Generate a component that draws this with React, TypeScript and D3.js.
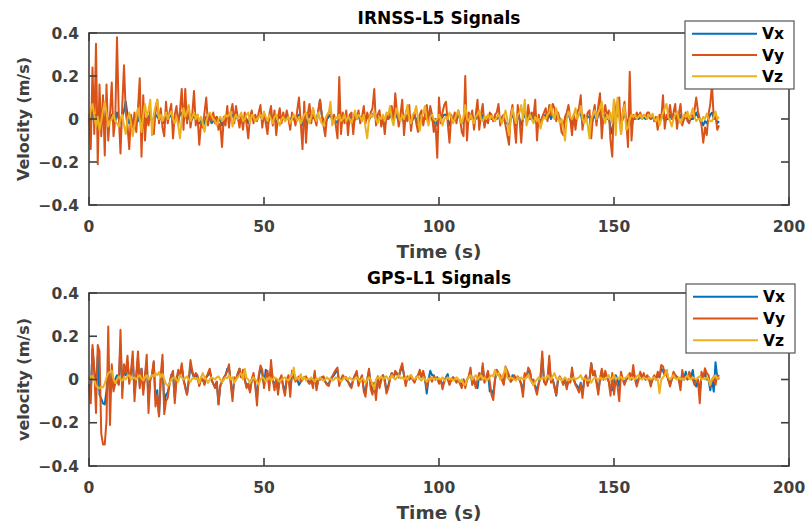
import React from 'react';
import * as d3 from 'd3';

// Sampling interval of the recorded velocity series (seconds)
const SAMPLE_DT = 0.5;

const seriesNames = ['Vx', 'Vy', 'Vz'];
const xTicks = [0, 50, 100, 150, 200];
const yTicks = [-0.4, -0.2, 0, 0.2, 0.4];
const xDomain = [0, 200];
const yDomain = [-0.4, 0.4];

// ---------- IRNSS-L5 ----------
const irnssVx = [
  0.0,-0.02,0.03,0.0,0.02,-0.03,0.01,0.0,0.02,-0.02,0.01,0.0,-0.01,0.02,0.0,-0.01,0.03,0.0,-0.02,0.01,
  0.04,0.08,0.02,-0.02,0.0,-0.03,0.01,0.0,-0.01,0.02,-0.02,0.01,0.0,-0.01,0.01,0.02,-0.01,0.0,0.02,0.01,
  0.0,0.01,-0.01,-0.02,0.02,0.0,0.01,0.02,-0.02,0.0,0.01,0.0,0.02,0.03,-0.01,0.02,0.0,0.01,-0.01,0.0,
  0.02,0.0,0.01,-0.02,0.0,-0.03,-0.02,0.01,0.0,0.01,-0.02,-0.01,0.0,0.01,-0.01,0.0,-0.03,0.0,0.01,0.02,
  0.0,0.01,0.02,0.0,0.01,0.0,-0.01,0.0,-0.02,0.01,0.0,-0.02,0.0,0.01,0.0,0.01,0.0,0.01,0.02,0.0,
  0.01,0.0,-0.02,0.0,0.02,0.0,0.01,-0.02,0.0,0.01,0.0,0.01,0.0,0.01,0.0,-0.01,0.01,0.0,-0.01,0.01,
  0.02,0.0,-0.03,0.02,-0.02,0.0,0.02,0.0,0.01,0.0,0.0,0.03,0.09,0.02,-0.01,-0.02,0.0,0.01,0.02,0.0,
  0.0,-0.01,-0.02,0.03,-0.02,0.0,0.0,0.01,-0.02,0.0,0.01,-0.02,0.0,0.0,0.01,0.0,0.0,0.02,0.0,0.01,
  0.0,0.01,0.02,0.03,0.0,0.0,0.01,-0.01,0.0,-0.02,0.0,0.0,0.01,0.02,0.0,0.03,0.01,-0.01,0.0,0.02,
  -0.02,0.0,0.0,0.02,-0.02,0.0,0.01,0.0,-0.02,0.0,0.01,0.0,0.0,0.02,0.0,0.02,0.0,-0.02,0.0,-0.03,
  0.02,0.0,0.01,0.02,0.02,0.0,-0.03,0.0,0.0,0.01,0.0,0.02,0.0,-0.02,-0.02,0.03,-0.02,0.0,0.0,0.01,
  -0.01,0.0,0.02,-0.01,0.0,0.02,-0.03,0.0,0.0,0.01,0.0,0.0,0.01,0.0,0.02,-0.01,0.0,0.0,-0.02,-0.02,
  -0.03,0.0,0.02,0.0,-0.03,0.02,0.0,-0.03,0.0,0.02,0.0,0.02,0.0,0.01,0.0,0.02,-0.03,0.0,-0.01,0.0,
  0.01,0.02,0.0,0.02,0.0,0.02,0.01,0.0,0.01,0.0,-0.02,-0.03,0.0,0.01,0.02,0.0,-0.03,0.0,-0.02,0.01,
  0.02,0.03,-0.02,0.0,0.0,0.01,0.01,-0.03,0.0,0.02,-0.01,0.02,0.03,-0.03,0.0,0.02,0.0,0.01,-0.04,-0.07,
  0.02,0.0,0.02,0.03,-0.02,0.0,0.02,0.0,-0.03,0.04,-0.03,0.0,0.0,0.01,0.0,0.01,0.0,0.01,0.0,0.01,
  0.01,0.0,0.01,0.0,0.0,-0.02,0.0,0.0,0.03,-0.01,0.0,0.0,0.02,0.0,0.01,0.02,-0.01,0.0,0.02,-0.01,
  0.0,0.01,0.0,-0.01,0.0,0.0,0.01,0.03,0.01,0.0,-0.01,-0.03,-0.01,-0.02,0.0,0.02,0.03,0.0,0.01,-0.02,
  -0.01,
];
const irnssVy = [
  0.02,-0.14,0.24,-0.07,0.35,-0.21,0.16,-0.08,0.11,-0.17,0.16,-0.10,0.02,0.17,-0.08,0.00,0.38,0.02,-0.16,0.06,
  0.25,0.03,-0.03,-0.14,0.02,-0.04,0.03,-0.06,0.05,0.19,-0.175,0.11,-0.10,0.02,-0.03,0.04,-0.02,-0.07,0.03,0.09,
  -0.02,0.05,-0.04,-0.08,0.08,-0.02,0.03,0.07,-0.09,0.02,0.06,-0.03,0.04,0.14,-0.05,0.14,-0.02,0.06,-0.04,0.02,
  0.13,-0.03,0.02,-0.12,-0.02,-0.04,0.03,0.10,-0.03,0.02,-0.01,0.03,-0.02,0.01,-0.05,-0.02,-0.13,0.01,-0.03,0.06,
  -0.04,0.03,0.07,-0.02,0.06,0.01,-0.04,0.02,-0.05,0.03,-0.02,-0.09,0.01,0.04,-0.02,0.02,-0.01,0.03,0.065,-0.04,
  0.03,-0.02,-0.07,0.02,0.06,-0.03,0.04,-0.075,0.01,0.05,-0.02,0.03,-0.01,0.04,0.00,-0.05,0.03,0.01,-0.03,0.04,
  0.10,-0.02,-0.14,0.08,-0.11,0.02,0.07,-0.02,0.05,0.00,-0.03,0.04,0.09,0.02,-0.03,-0.08,0.01,0.03,0.05,-0.02,
  0.02,-0.03,-0.09,0.195,-0.07,0.03,-0.02,0.04,-0.075,0.02,0.03,-0.07,0.02,0.00,0.04,-0.02,0.01,0.06,-0.02,0.03,
  -0.01,0.03,0.05,0.14,-0.03,0.02,0.04,-0.035,0.01,-0.07,0.02,0.00,0.03,0.06,-0.02,0.12,0.03,-0.035,0.02,0.09,
  -0.075,0.02,-0.01,0.065,-0.055,0.01,0.03,-0.02,-0.06,0.02,0.04,-0.03,0.02,0.065,-0.01,0.06,0.02,-0.06,-0.02,-0.18,
  0.10,-0.02,0.03,0.065,0.08,-0.02,-0.11,0.02,-0.01,0.03,-0.02,0.04,0.01,-0.06,-0.08,0.20,-0.10,0.03,0.00,0.04,
  -0.05,0.02,0.09,-0.05,0.02,0.07,-0.04,0.01,-0.02,0.03,0.02,-0.01,0.02,0.03,0.07,-0.03,0.01,0.02,-0.03,-0.075,
  -0.12,0.02,0.065,-0.02,-0.11,0.065,0.00,-0.11,0.02,0.05,-0.01,0.065,0.00,0.03,0.01,0.09,-0.10,0.02,-0.035,0.01,
  0.03,0.05,-0.01,0.065,0.02,0.07,0.05,-0.01,0.03,0.00,-0.06,-0.075,0.01,0.03,0.065,0.00,-0.075,0.02,-0.05,0.03,
  0.05,0.11,-0.05,0.02,-0.01,0.03,0.04,-0.09,0.02,0.065,-0.03,0.06,0.12,-0.09,0.02,0.065,0.01,0.04,-0.10,-0.175,
  0.09,0.02,0.08,0.10,-0.07,0.03,0.08,-0.01,-0.13,0.22,-0.10,0.02,0.00,0.03,0.01,0.03,0.00,0.02,0.01,0.03,
  0.03,0.00,0.02,-0.01,0.01,-0.05,0.02,0.00,0.11,-0.045,0.02,0.01,0.065,0.00,0.03,0.07,-0.045,0.02,0.07,-0.03,
  0.00,0.03,-0.01,-0.02,0.02,0.01,0.04,0.10,0.035,0.00,-0.03,-0.11,-0.04,-0.075,0.02,0.07,0.16,0.00,0.02,-0.05,
  -0.03,
];
const irnssVz = [
  0.00,0.04,0.07,0.02,-0.035,0.01,-0.05,-0.01,0.04,0.08,0.03,-0.035,-0.01,0.00,0.02,-0.01,-0.02,-0.035,0.00,0.02,
  -0.03,-0.07,0.00,0.03,-0.02,-0.08,-0.03,0.01,0.05,0.00,-0.06,0.02,0.07,0.01,0.04,0.09,-0.075,0.02,0.06,0.09,
  0.00,0.02,-0.01,0.01,0.03,0.00,0.02,0.035,0.00,-0.02,0.01,-0.03,-0.09,0.00,0.05,0.01,0.03,0.065,-0.01,0.01,
  0.03,0.00,0.02,-0.01,0.01,-0.02,-0.06,-0.01,0.02,0.03,0.015,0.00,-0.01,-0.03,0.00,0.01,-0.01,0.00,0.02,0.01,
  0.02,0.035,-0.035,0.00,0.02,0.00,0.01,0.03,-0.01,0.00,0.02,0.03,-0.02,0.02,0.01,-0.01,0.00,0.01,0.02,0.00,
  0.035,0.01,-0.01,0.02,0.00,-0.02,0.01,0.02,-0.01,-0.03,0.00,0.01,-0.01,0.00,0.01,-0.02,0.00,0.02,0.01,-0.01,
  0.01,-0.02,0.00,0.02,0.03,0.00,-0.02,0.01,0.05,0.01,-0.01,0.03,0.00,-0.02,-0.03,0.00,0.02,0.03,0.08,-0.03,
  -0.01,0.01,0.00,0.02,-0.01,0.00,0.02,-0.01,0.01,0.00,-0.02,0.01,0.04,0.00,0.02,0.01,-0.01,0.02,-0.04,-0.09,
  0.00,0.02,0.01,0.035,0.00,-0.02,0.01,0.00,0.02,-0.01,0.03,0.02,0.06,0.00,-0.03,0.02,0.05,0.01,-0.01,0.02,
  0.00,0.03,0.065,0.00,-0.02,0.02,0.03,0.06,0.00,-0.055,0.01,0.03,0.06,0.00,-0.03,0.01,0.02,0.00,-0.01,0.00,
  0.02,0.00,-0.03,0.00,0.01,0.00,0.03,0.01,-0.02,0.00,0.02,0.04,0.00,-0.02,0.01,0.065,0.00,-0.01,0.02,0.00,
  -0.02,0.01,0.02,0.04,0.00,-0.01,0.01,0.00,0.02,0.00,0.015,0.00,-0.01,0.01,0.02,0.00,-0.02,0.01,0.04,0.00,
  -0.075,0.00,0.05,0.01,-0.02,0.02,0.03,0.065,0.00,0.09,-0.03,0.00,0.02,0.00,-0.02,0.01,-0.01,0.00,-0.045,-0.01,
  0.01,0.00,0.02,0.03,0.065,0.02,0.00,0.05,0.01,-0.02,0.00,-0.04,-0.10,0.00,0.035,0.01,0.00,0.02,0.05,0.00,
  0.02,0.06,0.00,-0.02,0.01,-0.03,-0.09,0.00,0.02,0.04,0.00,0.03,0.05,0.08,0.01,-0.02,0.02,0.00,0.03,-0.02,
  0.09,-0.075,0.10,0.00,-0.07,0.02,0.065,-0.05,-0.04,0.00,0.02,0.01,0.02,0.00,0.01,0.02,0.00,0.02,0.01,0.00,
  0.02,0.01,0.025,0.00,-0.01,0.01,-0.03,0.00,0.03,0.05,0.07,0.01,-0.01,-0.035,0.00,0.02,0.035,0.00,-0.02,0.00,
  0.02,0.01,0.035,0.00,0.02,0.05,0.01,-0.01,0.00,0.00,-0.01,0.01,0.00,0.025,0.00,-0.01,-0.01,0.01,0.035,0.00,
  0.01,
];

// ---------- GPS-L1 ----------
const gpsVx = [
  -0.02,-0.06,0.14,0.04,-0.04,0.11,-0.07,-0.09,-0.11,-0.115,-0.05,0.05,-0.06,0.03,-0.04,0.0,0.02,-0.02,0.16,-0.04,
  0.05,0.02,0.08,-0.01,0.03,0.09,-0.06,0.01,0.1,-0.03,0.05,-0.05,0.01,0.08,-0.1,0.0,0.02,0.08,-0.09,-0.05,
  -0.17,0.0,0.08,-0.12,-0.07,-0.06,-0.02,0.02,0.03,-0.08,0.0,0.03,0.02,0.06,0.0,-0.03,-0.07,-0.01,0.07,0.03,
  0.01,0.02,0.01,-0.025,0.0,0.0,-0.02,0.01,0.02,0.04,0.0,-0.02,-0.03,-0.01,-0.115,-0.03,-0.01,0.0,0.02,0.05,
  0.05,-0.01,-0.08,0.0,0.0,0.02,0.05,0.01,0.03,0.0,-0.03,-0.02,-0.055,0.0,0.02,-0.02,-0.09,0.01,0.05,0.03,
  -0.025,0.045,0.03,-0.03,0.06,0.0,-0.03,0.0,-0.05,0.0,0.01,-0.03,-0.05,0.0,0.01,-0.05,0.03,0.01,0.0,0.0,
  -0.025,-0.01,0.0,0.01,0.01,0.0,-0.015,0.0,-0.03,0.03,-0.04,0.0,0.0,0.01,0.01,-0.01,-0.02,-0.02,0.0,0.01,
  0.02,0.035,0.04,-0.02,0.0,0.01,0.01,0.0,-0.01,-0.02,-0.03,0.0,0.02,0.03,-0.02,0.0,0.01,-0.04,-0.06,0.0,
  0.04,-0.03,-0.05,-0.015,-0.07,0.01,-0.03,0.0,0.02,0.0,-0.05,-0.03,0.01,0.03,0.01,0.03,0.025,0.01,0.04,0.06,
  0.02,-0.02,0.01,0.0,0.015,0.0,-0.01,0.01,0.015,0.035,0.01,0.03,0.0,-0.065,0.0,0.04,0.02,0.02,0.0,0.01,
  -0.015,0.0,-0.03,-0.01,0.01,0.025,-0.02,0.0,0.01,0.0,-0.01,0.0,-0.015,-0.03,0.0,-0.03,0.0,0.01,0.04,-0.02,
  0.0,-0.03,-0.04,0.02,0.0,0.06,-0.01,0.01,0.03,-0.055,-0.05,-0.07,0.0,0.035,0.02,0.015,0.0,-0.02,0.045,0.03,
  0.015,-0.01,0.02,0.015,0.0,0.01,0.0,-0.02,-0.06,0.025,0.01,0.045,0.03,-0.01,-0.025,-0.03,-0.05,-0.015,0.01,0.1,
  -0.01,-0.02,0.0,0.08,-0.01,0.0,-0.03,-0.075,0.0,0.01,0.0,-0.02,0.0,-0.035,0.0,-0.01,0.03,0.0,-0.02,-0.03,
  -0.045,-0.015,-0.065,0.0,0.015,-0.02,0.0,0.075,0.02,0.03,-0.01,-0.05,0.0,0.04,0.0,0.03,0.01,-0.01,-0.05,-0.05,
  -0.02,0.02,0.0,-0.033,0.02,0.0,-0.015,0.0,0.01,0.02,0.0,0.036,0.01,-0.015,0.0,0.028,0.01,0.02,0.0,0.015,
  0.01,-0.02,0.0,0.015,0.0,0.025,0.01,0.05,0.04,0.02,0.044,0.0,-0.02,0.0,0.015,0.02,0.01,0.0,-0.03,0.03,
  0.0,0.036,0.0,0.03,0.01,0.044,-0.015,-0.033,0.0,-0.07,0.02,0.01,0.03,0.0,0.0,-0.05,0.0,-0.056,0.08,0.01,
  0.02,
];
const gpsVy = [
  -0.03,-0.11,0.16,0.05,-0.155,0.16,0.13,-0.25,-0.3,-0.3,-0.19,0.245,-0.21,0.07,-0.055,-0.02,0.0,-0.025,0.23,-0.085,
  0.07,0.03,0.11,-0.02,0.04,0.13,-0.1,0.02,0.13,-0.04,0.05,-0.07,0.02,0.115,-0.155,0.0,0.02,0.085,-0.125,-0.07,
  -0.17,0.02,0.115,-0.16,-0.1,-0.085,-0.02,0.02,0.04,-0.11,0.0,0.045,0.02,0.075,0.0,-0.04,-0.07,0.0,0.09,0.04,
  0.01,0.03,0.02,-0.03,0.01,0.0,-0.025,0.01,0.03,0.05,0.0,-0.02,-0.04,-0.01,-0.115,-0.03,-0.01,0.01,0.02,0.04,
  0.07,-0.02,-0.1,0.01,0.0,0.03,0.05,0.01,0.045,0.0,-0.04,-0.02,-0.06,0.0,0.03,-0.03,-0.12,0.02,0.065,0.045,
  -0.04,0.01,0.04,-0.05,0.09,0.0,-0.05,0.0,-0.07,0.0,0.02,-0.04,-0.075,0.0,0.02,-0.08,0.04,0.01,-0.01,0.0,
  0.015,-0.01,0.0,0.01,0.015,-0.01,-0.02,0.0,-0.04,0.04,-0.05,0.0,0.0,0.01,0.015,-0.01,-0.025,-0.03,0.0,0.015,
  0.03,0.045,0.055,-0.03,0.0,0.02,0.01,0.01,-0.01,-0.03,-0.04,0.0,0.02,0.04,-0.03,0.0,0.02,-0.055,-0.08,0.0,
  0.05,-0.045,-0.07,-0.02,-0.095,0.015,-0.04,0.0,0.02,-0.01,-0.065,-0.04,0.0,0.03,0.01,0.04,0.03,0.01,0.05,0.075,
  0.02,-0.03,0.015,0.0,0.02,0.0,-0.015,0.01,0.02,0.045,0.01,0.04,0.0,-0.04,0.0,0.01,-0.01,0.015,0.0,0.01,
  -0.02,0.0,-0.045,-0.01,0.01,0.0,-0.025,0.0,0.01,0.0,-0.015,0.0,-0.02,-0.04,0.0,-0.04,0.0,0.015,0.055,-0.025,
  0.0,-0.04,0.0,0.03,0.0,0.075,-0.015,0.01,0.04,-0.01,-0.07,-0.095,0.0,0.045,0.03,0.02,0.0,-0.025,0.06,0.04,
  0.02,-0.01,0.0,0.02,0.0,0.015,0.0,-0.025,-0.08,0.03,0.01,0.055,0.04,-0.01,0.0,-0.04,-0.07,-0.02,0.01,0.13,
  -0.01,-0.025,0.0,0.11,-0.015,0.0,-0.04,-0.07,0.0,0.015,0.0,-0.025,0.0,-0.045,0.0,-0.015,0.055,0.0,-0.025,-0.04,
  -0.06,-0.02,-0.085,0.0,0.02,-0.03,0.0,0.075,0.02,0.04,-0.015,-0.07,0.0,0.05,0.0,0.04,0.01,-0.01,-0.075,0.03,
  -0.07,0.0,-0.03,-0.1,0.036,0.0,-0.025,0.0,0.013,0.03,0.0,0.067,0.0,-0.033,0.0,0.036,0.01,0.03,0.0,0.02,
  0.0,-0.033,0.0,0.02,0.0,0.036,0.01,0.067,0.06,0.03,0.02,0.0,-0.033,0.0,0.036,0.02,0.013,0.0,-0.05,0.044,
  0.0,0.013,0.0,0.036,0.01,0.0,-0.025,0.0,-0.002,-0.11,0.036,0.01,0.052,0.03,0.02,-0.033,0.0,0.013,-0.025,0.02,
  0.0,
];
const gpsVz = [
  0.0,0.015,0.015,0.0,-0.03,-0.035,-0.04,-0.035,-0.036,-0.02,0.01,0.03,0.035,0.04,0.0,-0.016,0.0,0.015,0.0,-0.005,
  0.01,0.0,0.015,0.02,0.0,0.005,0.01,0.0,0.012,0.02,0.005,-0.005,0.01,0.02,0.0,0.01,0.02,0.015,0.03,0.02,
  0.035,0.01,0.025,0.0,-0.02,-0.03,-0.02,0.0,0.007,0.01,0.0,-0.01,0.02,0.01,0.0,0.005,0.015,0.0,-0.01,0.005,
  0.007,0.0,0.005,-0.016,0.01,0.03,0.01,0.0,-0.016,0.0,0.01,0.005,0.0,0.01,0.015,0.0,-0.012,0.0,0.01,0.005,
  0.02,0.0,0.01,-0.016,0.0,0.01,0.02,0.03,0.0,0.05,0.007,0.0,-0.016,0.0,0.01,0.0,-0.01,-0.024,0.0,0.01,
  0.005,-0.01,0.0,0.01,-0.005,0.0,0.01,0.005,0.0,-0.01,0.0,0.005,0.01,0.0,-0.005,0.01,0.02,0.055,0.0,0.01,
  0.0,0.025,0.0,0.01,-0.005,0.005,0.0,0.01,0.0,-0.01,0.005,0.0,0.01,0.0,-0.005,0.0,0.01,0.0,0.005,-0.005,
  0.0,0.01,0.005,0.0,-0.01,0.0,0.01,0.005,0.0,0.01,0.0,-0.005,0.005,0.01,0.0,-0.01,0.005,0.0,-0.015,0.0,
  0.01,0.0,-0.02,-0.045,0.0,0.01,0.005,0.015,0.0,0.01,0.015,0.0,0.005,0.02,0.01,0.0,0.01,0.02,0.005,0.01,
  0.0,0.01,0.0,0.015,0.02,0.005,0.0,0.01,0.015,0.0,-0.005,0.01,0.0,-0.01,0.005,0.0,0.01,0.0,0.005,0.0,
  0.005,0.0,0.01,-0.005,0.0,0.01,0.0,0.005,-0.005,0.0,0.01,0.0,-0.01,0.0,-0.02,-0.025,0.0,0.01,0.02,0.0,
  0.01,0.02,0.0,0.01,0.02,0.0,0.01,-0.005,0.0,0.01,0.02,0.015,0.045,0.02,0.03,0.0,0.01,0.03,0.055,0.01,
  0.0,0.01,0.005,0.0,-0.005,0.01,0.0,0.01,0.0,0.005,0.01,0.02,0.0,-0.01,-0.025,-0.01,0.0,0.01,0.0,0.005,
  0.01,0.0,0.02,0.01,0.0,0.015,0.03,0.005,0.0,0.01,-0.005,0.0,0.01,0.0,-0.005,0.005,0.0,0.01,0.0,0.005,
  0.01,0.02,0.0,0.005,0.0,-0.005,0.0,-0.015,0.0,0.01,0.005,0.0,0.01,0.0,0.005,0.0,0.01,0.02,0.0,0.005,
  0.02,0.0,0.01,0.005,0.013,0.0,0.005,0.01,0.02,0.0,0.01,0.005,0.0,0.015,0.02,0.005,0.0,0.01,0.005,0.0,
  0.01,0.0,0.005,0.01,0.0,0.0,-0.064,0.0,0.01,0.02,0.044,0.01,0.0,0.01,0.02,0.005,0.0,0.01,0.0,0.005,
  0.0,0.01,0.02,0.005,0.0,0.01,0.005,0.0,0.01,0.015,0.0,0.005,0.0,0.01,0.0,-0.025,0.0,0.01,0.02,0.005,
  0.01,
];

const COLORS = ['#0072BD', '#D95319', '#EDB120'];
const AXIS = '#404040';
const FONT = '"DejaVu Sans", Verdana, sans-serif';

type PanelProps = {
  top: number;
  bottom: number;
  title: string;
  ylabel: string;
  series: number[][];
  legend: { x: number; y: number; w: number; h: number };
};

const LEFT = 89;
const RIGHT = 789;

function Panel({ top, bottom, title, ylabel, series, legend }: PanelProps) {
  const x = d3.scaleLinear().domain(xDomain).range([LEFT, RIGHT]);
  const y = d3.scaleLinear().domain(yDomain).range([bottom, top]);
  const line = d3
    .line<number>()
    .x((_, i) => x(i * SAMPLE_DT))
    .y((d) => y(d));
  const tick = 8;
  const rowH = (legend.h - 4) / 3;
  return (
    <g>
      {series.map((s, k) => (
        <path key={k} d={line(s) || ''} fill="none" stroke={COLORS[k]} strokeWidth={2} strokeLinejoin="round" />
      ))}
      <rect x={LEFT} y={top} width={RIGHT - LEFT} height={bottom - top} fill="none" stroke={AXIS} strokeWidth={1.6} />
      {xTicks.map((t) => (
        <g key={'x' + t}>
          <line x1={x(t)} x2={x(t)} y1={bottom} y2={bottom - tick} stroke={AXIS} strokeWidth={1.6} />
          <line x1={x(t)} x2={x(t)} y1={top} y2={top + tick} stroke={AXIS} strokeWidth={1.6} />
          <text x={x(t)} y={bottom + 27} textAnchor="middle" fontSize={15.5} fontWeight="bold" fill={AXIS} fontFamily={FONT}>
            {t}
          </text>
        </g>
      ))}
      {yTicks.map((t) => (
        <g key={'y' + t}>
          <line x1={LEFT} x2={LEFT + tick} y1={y(t)} y2={y(t)} stroke={AXIS} strokeWidth={1.6} />
          <line x1={RIGHT} x2={RIGHT - tick} y1={y(t)} y2={y(t)} stroke={AXIS} strokeWidth={1.6} />
          <text x={79} y={y(t) + 5.5} textAnchor="end" fontSize={15.5} fontWeight="bold" fill={AXIS} fontFamily={FONT}>
            {t === 0 ? '0' : d3.format('.1f')(t)}
          </text>
        </g>
      ))}
      <text x={(LEFT + RIGHT) / 2} y={bottom + 53} textAnchor="middle" fontSize={18.5} fontWeight="bold" fill={AXIS} fontFamily={FONT}>
        Time (s)
      </text>
      <text
        transform={`translate(29,${(top + bottom) / 2}) rotate(-90)`}
        textAnchor="middle"
        fontSize={16}
        fontWeight="bold"
        fill={AXIS}
        fontFamily={FONT}
      >
        {ylabel}
      </text>
      <text x={(LEFT + RIGHT) / 2} y={top - 9} textAnchor="middle" fontSize={17} fontWeight="bold" fill="#000" fontFamily={FONT}>
        {title}
      </text>
      <rect x={legend.x} y={legend.y} width={legend.w} height={legend.h} fill="#fff" stroke="#555" strokeWidth={1.2} />
      {seriesNames.map((n, k) => {
        const cy = legend.y + 2 + rowH * (k + 0.5);
        return (
          <g key={n}>
            <line x1={legend.x + 7} x2={legend.x + 72} y1={cy} y2={cy} stroke={COLORS[k]} strokeWidth={2} />
            <text x={legend.x + 77} y={cy + 5.5} fontSize={15.5} fontWeight="bold" fill="#000" fontFamily={FONT}>
              {n}
            </text>
          </g>
        );
      })}
    </g>
  );
}

export default function App() {
  return (
    <svg
      width={807}
      height={527}
      style={{ position: 'absolute', left: 0, top: 0, background: '#fff' }}
    >
      <rect x={0} y={0} width={807} height={527} fill="#fff" />
      <Panel
        top={33}
        bottom={205}
        title="IRNSS-L5 Signals"
        ylabel="Velocity (m/s)"
        series={[irnssVx, irnssVy, irnssVz]}
        legend={{ x: 685, y: 21, w: 109, h: 68 }}
      />
      <Panel
        top={293}
        bottom={466}
        title="GPS-L1 Signals"
        ylabel="velocity (m/s)"
        series={[gpsVx, gpsVy, gpsVz]}
        legend={{ x: 686, y: 284, w: 109, h: 69 }}
      />
    </svg>
  );
}
